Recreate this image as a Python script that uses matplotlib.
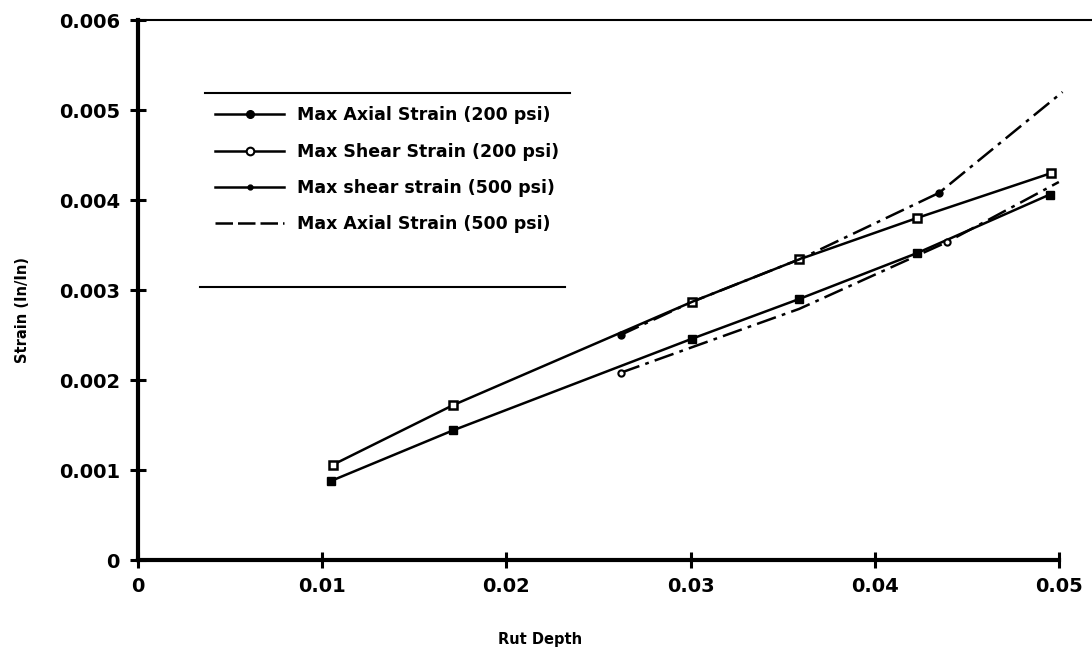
import numpy as np
import matplotlib
matplotlib.use("Agg")
import matplotlib.pyplot as plt
from matplotlib.lines import Line2D

# rut depth (in) vs. max strain (in/in)
axial200_x = [0.0105, 0.0171, 0.0301, 0.0359, 0.0423, 0.0495]
axial200_y = [0.00088, 0.00144, 0.00246, 0.00290, 0.00341, 0.00406]

shear200_x = [0.0106, 0.0171, 0.0301, 0.0359, 0.0423, 0.0496]
shear200_y = [0.00106, 0.00172, 0.00287, 0.00334, 0.00380, 0.00430]

shear500_x = [0.0262, 0.0301, 0.0359, 0.0435, 0.0502]
shear500_y = [0.00250, 0.00287, 0.00334, 0.00408, 0.00520]

axial500_x = [0.0262, 0.0359, 0.0439, 0.0500]
axial500_y = [0.00208, 0.00279, 0.00353, 0.00420]

labels = ["Max Axial Strain (200 psi)", "Max Shear Strain (200 psi)",
          "Max shear strain (500 psi)", "Max Axial Strain (500 psi)"]

xticks = [0, 0.01, 0.02, 0.03, 0.04, 0.05]
xticklabels = ["0", "0.01", "0.02", "0.03", "0.04", "0.05"]
yticks = [0, 0.001, 0.002, 0.003, 0.004, 0.005, 0.006]
yticklabels = ["0", "0.001", "0.002", "0.003", "0.004", "0.005", "0.006"]

plt.rcParams["font.family"] = ["DejaVu Sans"]

fig = plt.figure(figsize=(10.92, 6.57), dpi=100)
ax = fig.add_axes([138 / 1092, 1 - 560 / 657, 954 / 1092, 540 / 657])

dashdot = (0, (8, 2.5, 1.5, 2.5))
lw = 1.8

ax.plot(axial200_x, axial200_y, color="black", lw=lw, marker="s", ms=5.5,
        mfc="black", mec="black")
ax.plot(shear200_x, shear200_y, color="black", lw=lw, marker="s", ms=5.5,
        mfc="white", mec="black", mew=1.8)
ax.plot(shear500_x, shear500_y, color="black", lw=lw, ls=dashdot,
        marker="o", ms=5, mfc="black", mec="black", markevery=[0, 3])
ax.plot(axial500_x, axial500_y, color="black", lw=lw, ls=dashdot,
        marker="o", ms=4.5, mfc="white", mec="black", mew=1.5, markevery=[0, 2])

ax.set_xlim(0, 0.0518)
ax.set_ylim(0, 0.006)
ax.set_xticks(xticks)
ax.set_xticklabels(xticklabels)
ax.set_yticks(yticks)
ax.set_yticklabels(yticklabels)

for s in ["left", "bottom"]:
    ax.spines[s].set_linewidth(3)
ax.spines["top"].set_linewidth(1.5)
ax.spines["right"].set_visible(False)
ax.spines["bottom"].set_bounds(0, 0.05)

ax.tick_params(axis="both", direction="inout", length=12, width=2.2,
               labelsize=14, colors="black")
ax.tick_params(axis="x", pad=6)
ax.tick_params(axis="y", pad=7)
for t in ax.get_xticklabels() + ax.get_yticklabels():
    t.set_fontweight("bold")

ax.set_xlabel("Rut Depth", fontsize=10.5, fontweight="bold")
ax.set_ylabel("Strain (In/In)", fontsize=10.5, fontweight="bold")
ax.xaxis.set_label_coords(0.4214, -0.133)
ax.yaxis.set_label_coords(-0.113, 0.463)

# legend, boxed by a rule above and below
handles = [
    Line2D([], [], color="black", lw=lw, marker="o", ms=5.5, mfc="black"),
    Line2D([], [], color="black", lw=lw, marker="o", ms=5.5, mfc="white", mew=1.5),
    Line2D([], [], color="black", lw=lw, marker="o", ms=3.5, mfc="black"),
    Line2D([], [], color="black", lw=lw, ls=(0, (7, 2))),
]
ax.legend(handles, labels, loc="upper left", bbox_to_anchor=(0.0807, 0.84),
          frameon=False, handlelength=4.0, handletextpad=0.7, labelspacing=1.05,
          borderpad=0, borderaxespad=0,
          prop={"weight": "bold", "size": 12.5})
ax.plot([0.070, 0.453], [0.8648, 0.8648], transform=ax.transAxes,
        color="black", lw=1.5)
ax.plot([0.065, 0.4476], [0.5056, 0.5056], transform=ax.transAxes,
        color="black", lw=1.5)

fig.savefig("out.png", dpi=100)
